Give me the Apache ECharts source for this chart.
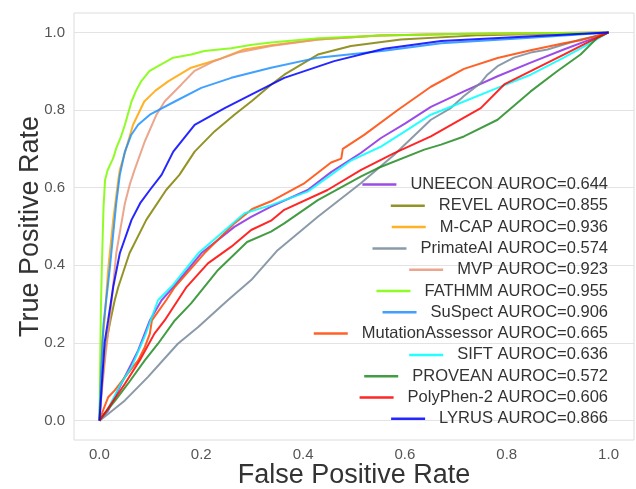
<!DOCTYPE html>
<html>
<head>
<meta charset="utf-8">
<script src="https://cdn.jsdelivr.net/npm/echarts@6/dist/echarts.min.js"></script>
<style>
  html, body { margin: 0; padding: 0; background: #ffffff; }
  #chart { width: 636px; height: 489px; }
</style>
</head>
<body>
<div id="chart"></div>
<script>
// ROC curves of missense variant predictors, one [FPR, TPR] list per tool
const tools = ['UNEECON', 'REVEL', 'M-CAP', 'PrimateAI', 'MVP', 'FATHMM',
  'SuSpect', 'MutationAssessor', 'SIFT', 'PROVEAN', 'PolyPhen-2', 'LYRUS'];
const auroc = [0.644, 0.855, 0.936, 0.574, 0.923, 0.955, 0.906, 0.665, 0.636, 0.572, 0.606, 0.866];
const colors = ['#8a2be2', '#808000', '#ffa500', '#778899', '#e9967a', '#7cfc00',
  '#1e90ff', '#ff4500', '#00ffff', '#228b22', '#ff0000', '#0000ff'];
const tickValues = [0, 0.2, 0.4, 0.6, 0.8, 1.0];

const rocUNEECON = [[0,0],[0.017,0.026],[0.043,0.095],[0.076,0.181],[0.099,0.258],[0.122,0.31],[0.145,0.344],
  [0.2,0.431],[0.265,0.499],[0.298,0.525],[0.337,0.551],[0.409,0.594],[0.455,0.64],[0.514,0.69],[0.553,0.728],
  [0.6,0.765],[0.651,0.808],[0.716,0.848],[0.782,0.887],[0.847,0.922],[0.912,0.956],[0.965,0.982],[1,1]];
const rocREVEL = [[0,0],[0.004,0.08],[0.01,0.16],[0.014,0.207],[0.022,0.26],[0.03,0.31],[0.037,0.344],[0.059,0.431],
  [0.092,0.517],[0.131,0.594],[0.157,0.633],[0.187,0.693],[0.226,0.745],[0.265,0.788],[0.3,0.824],[0.337,0.865],
  [0.363,0.891],[0.429,0.943],[0.494,0.965],[0.592,0.982],[0.75,0.993],[1,1]];
const rocMCAP = [[0,0],[0.002,0.1],[0.005,0.2],[0.01,0.258],[0.017,0.388],[0.027,0.517],[0.037,0.62],[0.04,0.646],
  [0.05,0.69],[0.066,0.762],[0.088,0.822],[0.11,0.85],[0.135,0.874],[0.18,0.909],[0.233,0.93],[0.284,0.956],
  [0.337,0.967],[0.43,0.982],[0.55,0.992],[0.7,0.996],[0.85,0.998],[1,1]];
const rocPrimateAI = [[0,0],[0.017,0.017],[0.05,0.052],[0.095,0.112],[0.154,0.198],[0.194,0.241],[0.252,0.31],
  [0.298,0.362],[0.35,0.439],[0.429,0.525],[0.514,0.612],[0.579,0.685],[0.651,0.775],[0.69,0.805],[0.716,0.836],
  [0.749,0.87],[0.762,0.891],[0.782,0.913],[0.814,0.935],[0.847,0.948],[0.88,0.956],[0.912,0.969],[0.945,0.982],
  [0.978,0.991],[1,1]];
const rocMVP = [[0,0],[0.005,0.08],[0.012,0.17],[0.02,0.258],[0.027,0.35],[0.033,0.431],[0.042,0.5],[0.05,0.56],
  [0.06,0.61],[0.069,0.646],[0.089,0.719],[0.112,0.788],[0.128,0.822],[0.161,0.866],[0.186,0.9],[0.225,0.926],
  [0.272,0.948],[0.337,0.965],[0.43,0.982],[0.55,0.992],[0.7,0.996],[1,1]];
const rocFATHMM = [[0,0],[0.001,0.12],[0.003,0.3],[0.005,0.41],[0.008,0.55],[0.011,0.62],[0.016,0.645],[0.027,0.676],
  [0.033,0.702],[0.042,0.73],[0.05,0.762],[0.063,0.822],[0.072,0.85],[0.082,0.874],[0.098,0.9],[0.115,0.913],
  [0.145,0.935],[0.18,0.943],[0.206,0.952],[0.259,0.959],[0.3,0.968],[0.337,0.974],[0.43,0.985],[0.55,0.992],
  [0.7,0.996],[0.85,0.998],[1,1]];
const rocSuSpect = [[0,0],[0.003,0.12],[0.008,0.25],[0.02,0.388],[0.033,0.56],[0.04,0.633],[0.05,0.693],
  [0.062,0.735],[0.076,0.762],[0.099,0.788],[0.148,0.822],[0.2,0.857],[0.259,0.883],[0.298,0.896],[0.337,0.909],
  [0.429,0.935],[0.559,0.953],[0.671,0.972],[0.847,0.986],[1,1]];
const rocMutationAssessor = [[0,0],[0.007,0.026],[0.017,0.06],[0.03,0.078],[0.05,0.112],[0.076,0.155],[0.089,0.189],
  [0.099,0.224],[0.103,0.258],[0.131,0.31],[0.148,0.344],[0.206,0.431],[0.265,0.508],[0.3,0.545],[0.337,0.565],
  [0.403,0.612],[0.455,0.665],[0.475,0.675],[0.478,0.7],[0.52,0.736],[0.586,0.8],[0.651,0.86],[0.716,0.906],
  [0.782,0.934],[0.847,0.954],[0.912,0.972],[0.945,0.98],[1,1]];
const rocSIFT = [[0,0],[0.015,0.026],[0.04,0.09],[0.063,0.138],[0.09,0.22],[0.115,0.31],[0.145,0.35],[0.194,0.431],
  [0.285,0.534],[0.337,0.555],[0.409,0.59],[0.455,0.633],[0.494,0.67],[0.553,0.706],[0.6,0.745],[0.651,0.788],
  [0.716,0.822],[0.782,0.857],[0.847,0.891],[0.912,0.935],[0.965,0.973],[1,1]];
const rocPROVEAN = [[0,0],[0.01,0.018],[0.03,0.05],[0.056,0.095],[0.089,0.155],[0.115,0.198],[0.148,0.258],
  [0.18,0.302],[0.233,0.388],[0.29,0.46],[0.337,0.487],[0.363,0.508],[0.429,0.568],[0.514,0.629],[0.546,0.65],
  [0.638,0.698],[0.671,0.711],[0.716,0.732],[0.782,0.775],[0.847,0.848],[0.899,0.9],[0.945,0.943],[0.978,0.986],[1,1]];
const rocPolyPhen2 = [[0,0],[0.014,0.026],[0.05,0.095],[0.079,0.155],[0.108,0.224],[0.128,0.258],[0.154,0.31],
  [0.171,0.344],[0.213,0.405],[0.259,0.448],[0.298,0.491],[0.337,0.515],[0.363,0.543],[0.448,0.594],[0.514,0.646],
  [0.579,0.689],[0.651,0.732],[0.703,0.771],[0.749,0.805],[0.795,0.866],[0.847,0.9],[0.912,0.943],[0.965,0.978],[1,1]];
const rocLYRUS = [[0,0],[0.005,0.1],[0.01,0.2],[0.017,0.258],[0.027,0.344],[0.04,0.431],[0.063,0.517],[0.08,0.56],
  [0.099,0.594],[0.122,0.633],[0.145,0.693],[0.187,0.762],[0.246,0.805],[0.298,0.84],[0.363,0.883],[0.461,0.926],
  [0.559,0.958],[0.671,0.978],[0.85,0.99],[1,1]];

const curves = [rocUNEECON, rocREVEL, rocMCAP, rocPrimateAI, rocMVP, rocFATHMM, rocSuSpect,
  rocMutationAssessor, rocSIFT, rocPROVEAN, rocPolyPhen2, rocLYRUS];

const FONT = '"Liberation Sans", Arial, sans-serif';
const labels = tools.map((t, i) => t + ' AUROC=' + auroc[i].toFixed(3));

const series = labels.map((name, i) => ({
  name: name,
  type: 'line',
  data: curves[i],
  showSymbol: false,
  symbol: 'none',
  clip: false,
  animation: false,
  lineStyle: { color: colors[i], width: 2, opacity: 0.85 },
  itemStyle: { color: colors[i], opacity: 0.85 }
}));

// one legend box per entry so every label lines up against the right edge
const legends = labels.map((name, i) => ({
  data: [name],
  right: 28,
  top: 176 + i * 21.3,
  padding: 0,
  icon: 'rect',
  itemWidth: 34,
  itemHeight: 2.5,
  selectedMode: false,
  itemStyle: { opacity: 0.85 },
  textStyle: { fontFamily: FONT, fontSize: 16.5, color: '#333333', padding: [0, 0, 0, 9] }
}));

const chart = echarts.init(document.getElementById('chart'), null, { renderer: 'canvas' });
chart.setOption({
  animation: false,
  backgroundColor: '#ffffff',
  grid: { left: 74, right: 2, top: 13, bottom: 49, show: true, borderColor: '#dcdcdc', borderWidth: 1,
    backgroundColor: 'transparent', containLabel: false, outerBoundsMode: 'none' },
  legend: legends,
  xAxis: {
    type: 'value', min: -0.05, max: 1.05,
    name: 'False Positive Rate', nameLocation: 'middle', nameGap: 22, nameMoveOverlap: false,
    nameTextStyle: { fontFamily: FONT, fontSize: 27, color: '#333333' },
    axisLine: { show: false },
    axisTick: { show: false, customValues: tickValues },
    axisLabel: { customValues: tickValues, fontFamily: FONT, fontSize: 15, color: '#555555', margin: 7,
      formatter: v => v.toFixed(1) },
    splitLine: { show: false }
  },
  yAxis: {
    type: 'value', min: -0.05, max: 1.05,
    name: 'True Positive Rate', nameLocation: 'middle', nameGap: 30, nameMoveOverlap: false,
    nameTextStyle: { fontFamily: FONT, fontSize: 27, color: '#333333' },
    axisLine: { show: false },
    axisTick: { show: false, customValues: tickValues },
    axisLabel: { customValues: tickValues, fontFamily: FONT, fontSize: 15, color: '#555555', margin: 9,
      formatter: v => v.toFixed(1) },
    splitLine: { show: true, lineStyle: { color: '#e3e3e3', width: 1 } }
  },
  series: series
});
</script>
</body>
</html>
